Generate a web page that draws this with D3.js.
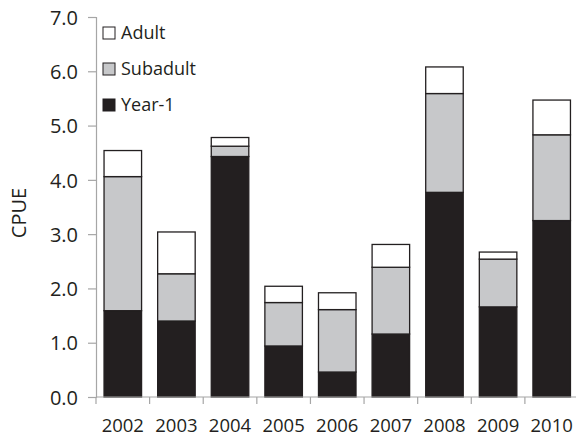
<!DOCTYPE html>
<html>
<head>
<meta charset="utf-8">
<script src="https://cdn.jsdelivr.net/npm/d3@7"></script>
<style>
  html, body { margin: 0; padding: 0; background: #fff; }
  svg { display: block; }
  text { font-family: "Open Sans", Lato, sans-serif; fill: #231f20; }
</style>
</head>
<body>
<svg id="chart" width="576" height="436"></svg>
<script>
// Catch per unit effort by year, stacked by life stage
const years = ["2002", "2003", "2004", "2005", "2006", "2007", "2008", "2009", "2010"];
const year1    = [1.59, 1.40, 4.43, 0.94, 0.46, 1.16, 3.77, 1.66, 3.25];
const subadult = [2.47, 0.87, 0.19, 0.80, 1.15, 1.23, 1.82, 0.88, 1.58];
const adult    = [0.48, 0.77, 0.16, 0.30, 0.31, 0.42, 0.49, 0.13, 0.64];
const yTicks = [0, 1, 2, 3, 4, 5, 6, 7];
const stages = ["Year-1", "Subadult", "Adult"];
const stageColors = ["#231f20", "#c7c8ca", "#ffffff"];

const svg = d3.select("#chart");
const margin = { left: 96, top: 17 };
const plotH = 380;
const plotW = 482.5;

const rows = years.map((y, i) => ({ year: y, "Year-1": year1[i], "Subadult": subadult[i], "Adult": adult[i] }));
const series = d3.stack().keys(stages)(rows);

const x = d3.scaleBand().domain(years).range([margin.left, margin.left + plotW]).paddingInner(0.3).paddingOuter(0.15);
const y = d3.scaleLinear().domain([0, 7]).range([margin.top + plotH, margin.top]);
const color = d3.scaleOrdinal().domain(stages).range(stageColors);

// Bars
svg.append("g").selectAll("g").data(series).join("g")
  .attr("fill", d => color(d.key))
  .selectAll("rect").data(d => d).join("rect")
  .attr("x", d => x(d.data.year))
  .attr("width", x.bandwidth())
  .attr("y", d => y(d[1]))
  .attr("height", d => y(d[0]) - y(d[1]))
  .attr("stroke", "#231f20")
  .attr("stroke-width", 1.3);

// Y axis
const yAxis = svg.append("g")
  .attr("transform", `translate(${margin.left},0)`)
  .call(d3.axisLeft(y).tickValues(yTicks).tickFormat(d3.format(".1f")).tickSizeOuter(0).tickSize(8).tickPadding(10));
yAxis.select(".domain").attr("stroke", "#a6a6a6").attr("stroke-width", 1.2);
yAxis.selectAll(".tick line").attr("stroke", "#a6a6a6").attr("stroke-width", 1.2);
yAxis.selectAll(".tick text").attr("font-size", 20).attr("font-family", "'Open Sans', Lato, sans-serif").attr("fill", "#231f20").attr("dy", "0.36em");

// X axis with ticks between categories
const xAxisG = svg.append("g").attr("transform", `translate(0,${margin.top + plotH})`);
xAxisG.append("line")
  .attr("x1", margin.left).attr("x2", margin.left + plotW)
  .attr("stroke", "#a6a6a6").attr("stroke-width", 1.2);
const step = x.step();
const boundaries = years.map(yr => x(yr) - (step - x.bandwidth()) / 2);
xAxisG.selectAll("line.sep").data(boundaries).join("line")
  .attr("class", "sep")
  .attr("x1", d => d).attr("x2", d => d).attr("y1", 0).attr("y2", 7)
  .attr("stroke", "#a6a6a6").attr("stroke-width", 1.2);
xAxisG.selectAll("text").data(years).join("text")
  .attr("x", d => x(d) + x.bandwidth() / 2)
  .attr("y", 35)
  .attr("text-anchor", "middle")
  .attr("font-size", 18.5)
  .text(d => d);

// Y axis title
svg.append("text")
  .attr("transform", `translate(26,${margin.top + plotH / 2 + 6}) rotate(-90)`)
  .attr("text-anchor", "middle")
  .attr("font-size", 20)
  .text("CPUE");

// Legend
const legendItems = ["Adult", "Subadult", "Year-1"];
const legend = svg.append("g").selectAll("g").data(legendItems).join("g")
  .attr("transform", (d, i) => `translate(103,${27 + i * 36})`);
legend.append("rect")
  .attr("width", 12).attr("height", 12)
  .attr("fill", d => color(d))
  .attr("stroke", "#231f20").attr("stroke-width", 1);
legend.append("text")
  .attr("x", 18).attr("y", 12)
  .attr("font-size", 18)
  .text(d => d);
</script>
</body>
</html>
